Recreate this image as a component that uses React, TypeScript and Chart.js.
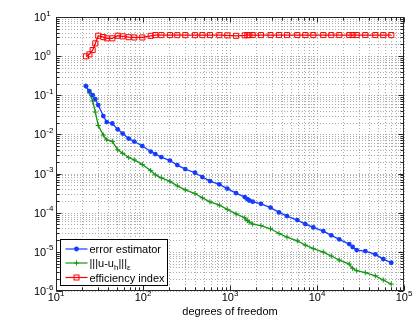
import React, { useEffect, useRef } from 'react';
import { Chart, registerables } from 'chart.js';

Chart.register(...registerables);

const dofs = [22.1, 24.2, 26.4, 28.3, 30.6, 35.0, 38.3, 44.4, 51.2, 58.4, 68.5, 79.4, 98.2, 122.6, 138.5, 162.3, 204, 248, 306, 396, 481, 589, 754, 931, 1173, 1476, 1581, 1667, 1824, 2271, 2923, 3659, 4519, 5936, 7338, 9070, 11810, 14590, 18030, 23480, 25690, 28560, 35900, 46770, 57800, 71400];

const estimator = [0.172, 0.128, 0.101, 0.080, 0.0563, 0.0295, 0.0207, 0.0190, 0.0135, 0.0105, 0.00785, 0.00658, 0.00505, 0.00365, 0.00315, 0.00264, 0.00215, 0.00165, 0.00130, 0.00105, 0.000815, 0.000644, 0.000531, 0.000414, 0.000318, 0.000251, 0.000223, 0.000205, 0.000191, 0.000169, 0.000135, 0.000102, 8.22e-5, 6.49e-5, 5.13e-5, 4.22e-5, 3.40e-5, 2.64e-5, 2.09e-5, 1.58e-5, 1.33e-5, 1.11e-5, 1.05e-5, 8.63e-6, 6.55e-6, 5.27e-6];

const errorNorm = [0.172, 0.115, 0.0713, 0.0373, 0.0169, 0.00964, 0.00727, 0.00665, 0.00406, 0.00329, 0.00257, 0.00223, 0.00171, 0.00119, 0.000927, 0.000778, 0.000633, 0.000485, 0.000384, 0.000309, 0.000240, 0.000189, 0.000156, 0.000122, 9.35e-5, 7.39e-5, 6.31e-5, 5.77e-5, 5.13e-5, 4.70e-5, 3.89e-5, 2.94e-5, 2.39e-5, 1.92e-5, 1.49e-5, 1.21e-5, 9.89e-6, 7.82e-6, 6.17e-6, 4.88e-6, 3.79e-6, 3.29e-6, 2.96e-6, 2.44e-6, 1.91e-6, 1.50e-6];

const efficiency = [0.99, 1.11, 1.43, 2.12, 3.32, 3.07, 2.85, 2.85, 3.32, 3.20, 3.05, 3.0, 3.0, 3.3, 3.45, 3.45, 3.45, 3.44, 3.45, 3.44, 3.45, 3.45, 3.44, 3.40, 3.30, 3.40, 3.45, 3.45, 3.46, 3.45, 3.46, 3.46, 3.45, 3.46, 3.46, 3.46, 3.46, 3.45, 3.46, 3.46, 3.46, 3.46, 3.46, 3.46, 3.45, 3.46];

const xMajorTicks = [10, 100, 1000, 10000, 100000];
const xTickExponents = ['1', '2', '3', '4', '5'];
const yMajorTicks = [1e-6, 1e-5, 1e-4, 1e-3, 1e-2, 1e-1, 1, 10];
const yTickExponents = ['-6', '-5', '-4', '-3', '-2', '-1', '0', '1'];

const seriesNames = ['error estimator', 'error norm', 'efficiency index'];
const BLUE = 'rgb(20,60,255)';
const GREEN = 'rgb(20,150,20)';
const RED = 'rgb(255,0,0)';
const FONT = '"Liberation Sans", Arial, Helvetica, sans-serif';

function withMinors(majors: number[]) {
  const out: number[] = [];
  for (let i = 0; i < majors.length; i++) {
    out.push(majors[i]);
    if (i < majors.length - 1) {
      for (let k = 2; k <= 9; k++) out.push(majors[i] * k);
    }
  }
  return out;
}

const xAllTicks = withMinors(xMajorTicks);
const yAllTicks = withMinors(yMajorTicks);

function drawMarker(ctx: CanvasRenderingContext2D, kind: string, x: number, y: number, color: string) {
  ctx.save();
  ctx.strokeStyle = color;
  ctx.fillStyle = color;
  ctx.lineWidth = 1;
  if (kind === 'circle') {
    ctx.beginPath();
    ctx.arc(x, y, 2.4, 0, Math.PI * 2);
    ctx.fill();
  } else if (kind === 'cross') {
    ctx.beginPath();
    ctx.moveTo(x - 2.6, y);
    ctx.lineTo(x + 2.6, y);
    ctx.moveTo(x, y - 2.6);
    ctx.lineTo(x, y + 2.6);
    ctx.stroke();
  } else {
    ctx.strokeRect(x - 2.5, y - 2.5, 5, 5);
  }
  ctx.restore();
}

const gridPlugin = {
  id: 'dottedGrid',
  beforeDatasetsDraw(chart: any) {
    const { ctx, chartArea: a, scales } = chart;
    const xs = scales.x;
    const ys = scales.y;
    ctx.save();
    ctx.strokeStyle = '#acacac';
    ctx.lineWidth = 1;
    ctx.setLineDash([1, 2]);
    ctx.beginPath();
    for (const v of xAllTicks) {
      const p = Math.round(xs.getPixelForValue(v)) + 0.5;
      ctx.moveTo(p, a.top);
      ctx.lineTo(p, a.bottom);
    }
    for (const v of yAllTicks) {
      const p = Math.round(ys.getPixelForValue(v)) + 0.5;
      ctx.moveTo(a.left, p);
      ctx.lineTo(a.right, p);
    }
    ctx.stroke();
    ctx.restore();
  },
};

const decorPlugin = {
  id: 'matlabDecor',
  afterDraw(chart: any) {
    const { ctx, chartArea: a, scales } = chart;
    const xs = scales.x;
    const ys = scales.y;
    const L = Math.round(a.left) + 0.5;
    const R = Math.round(a.right) - 0.5;
    const T = Math.round(a.top) + 0.5;
    const B = Math.round(a.bottom) - 0.5;
    ctx.save();
    ctx.strokeStyle = '#262626';
    ctx.lineWidth = 1;
    ctx.beginPath();
    for (const v of xAllTicks) {
      const p = Math.round(xs.getPixelForValue(v)) + 0.5;
      const len = xMajorTicks.includes(v) ? 5 : 3;
      ctx.moveTo(p, B); ctx.lineTo(p, B - len);
      ctx.moveTo(p, T); ctx.lineTo(p, T + len);
    }
    for (const v of yAllTicks) {
      const p = Math.round(ys.getPixelForValue(v)) + 0.5;
      const len = yMajorTicks.includes(v) ? 5 : 3;
      ctx.moveTo(L, p); ctx.lineTo(L + len, p);
      ctx.moveTo(R, p); ctx.lineTo(R - len, p);
    }
    ctx.stroke();
    ctx.strokeRect(L, T, R - L, B - T);

    // tick labels
    ctx.fillStyle = '#000';
    ctx.textBaseline = 'alphabetic';
    ctx.textAlign = 'left';
    xMajorTicks.forEach((v, i) => {
      const p = xs.getPixelForValue(v);
      ctx.font = `11px ${FONT}`;
      const w1 = ctx.measureText('10').width;
      ctx.font = `8px ${FONT}`;
      const w2 = ctx.measureText(xTickExponents[i]).width;
      const start = p - (w1 + w2) / 2;
      ctx.font = `11px ${FONT}`;
      ctx.fillText('10', start, a.bottom + 10);
      ctx.font = `8px ${FONT}`;
      ctx.fillText(xTickExponents[i], start + w1, a.bottom + 4.5);
    });
    yMajorTicks.forEach((v, i) => {
      const p = ys.getPixelForValue(v);
      ctx.font = `11px ${FONT}`;
      const w1 = ctx.measureText('10').width;
      ctx.fillText('10', 34, p + 4);
      ctx.font = `8px ${FONT}`;
      ctx.fillText(yTickExponents[i], 34 + w1, p - 1.5);
    });

    // x title
    ctx.font = `11px ${FONT}`;
    ctx.textAlign = 'center';
    ctx.fillText('degrees of freedom', (a.left + a.right) / 2, a.bottom + 24);

    // legend
    const bx = Math.round(a.left) + 4.5;
    const bw = 107;
    const bh = 46;
    const by = Math.round(a.bottom) - 5.5 - bh;
    ctx.fillStyle = '#fff';
    ctx.fillRect(bx, by, bw, bh);
    ctx.strokeStyle = '#000';
    ctx.strokeRect(bx, by, bw, bh);
    const rows = [
      { color: BLUE, kind: 'circle', y: by + 9.5 },
      { color: GREEN, kind: 'cross', y: by + 23.5 },
      { color: RED, kind: 'rect', y: by + 38 },
    ];
    rows.forEach((r, i) => {
      ctx.strokeStyle = r.color;
      ctx.lineWidth = 1.2;
      ctx.beginPath();
      ctx.moveTo(bx + 5, r.y);
      ctx.lineTo(bx + 27, r.y);
      ctx.stroke();
      drawMarker(ctx, r.kind, bx + 16, r.y, r.color);
      ctx.fillStyle = '#000';
      ctx.textAlign = 'left';
      const tx = bx + 29;
      const base = r.y + 4;
      if (i === 1) {
        ctx.font = `11px ${FONT}`;
        let x = tx;
        ctx.fillText('|||u-u', x, base);
        x += ctx.measureText('|||u-u').width;
        ctx.font = `8px ${FONT}`;
        ctx.fillText('h', x, base + 3);
        x += ctx.measureText('h').width;
        ctx.font = `11px ${FONT}`;
        ctx.fillText('|||', x, base);
        x += ctx.measureText('|||').width;
        ctx.font = `8px ${FONT}`;
        ctx.fillText('\u03b5', x, base + 3);
      } else {
        ctx.font = `11px ${FONT}`;
        ctx.fillText(seriesNames[i], tx, base);
      }
    });
    ctx.restore();
  },
};

export default function App() {
  const ref = useRef<HTMLCanvasElement | null>(null);
  useEffect(() => {
    if (!ref.current) return;
    const mk = (ys: number[]) => dofs.map((d, i) => ({ x: d, y: ys[i] }));
    const chart = new Chart(ref.current, {
      type: 'line',
      data: {
        datasets: [
          {
            label: seriesNames[0],
            data: mk(estimator),
            borderColor: BLUE,
            backgroundColor: BLUE,
            borderWidth: 1.3,
            pointStyle: 'circle',
            pointRadius: 2.4,
            pointBorderWidth: 0,
          },
          {
            label: seriesNames[1],
            data: mk(errorNorm),
            borderColor: GREEN,
            backgroundColor: GREEN,
            borderWidth: 1.3,
            pointStyle: 'cross',
            pointRadius: 2.6,
            pointBorderWidth: 1,
          },
          {
            label: seriesNames[2],
            data: mk(efficiency),
            borderColor: RED,
            backgroundColor: 'rgba(0,0,0,0)',
            borderWidth: 1.3,
            pointStyle: 'rect',
            pointRadius: 3.6,
            pointBorderWidth: 1,
          },
        ] as any,
      },
      options: {
        animation: false,
        responsive: false,
        layout: { padding: { left: 56, top: 17, right: 11, bottom: 32 } },
        plugins: { legend: { display: false }, tooltip: { enabled: false } },
        elements: { line: { tension: 0 } },
        scales: {
          x: {
            type: 'logarithmic',
            min: 10,
            max: 100000,
            ticks: { display: false },
            grid: { display: false, drawTicks: false },
            border: { display: false },
          },
          y: {
            type: 'logarithmic',
            min: 1e-6,
            max: 10,
            ticks: { display: false },
            grid: { display: false, drawTicks: false },
            border: { display: false },
          },
        },
      } as any,
      plugins: [gridPlugin, decorPlugin],
    });
    return () => chart.destroy();
  }, []);
  return (
    <div style={{ position: 'absolute', left: 0, top: 0, width: 415, height: 323, background: '#fff' }}>
      <canvas ref={ref} width={415} height={323} />
    </div>
  );
}
